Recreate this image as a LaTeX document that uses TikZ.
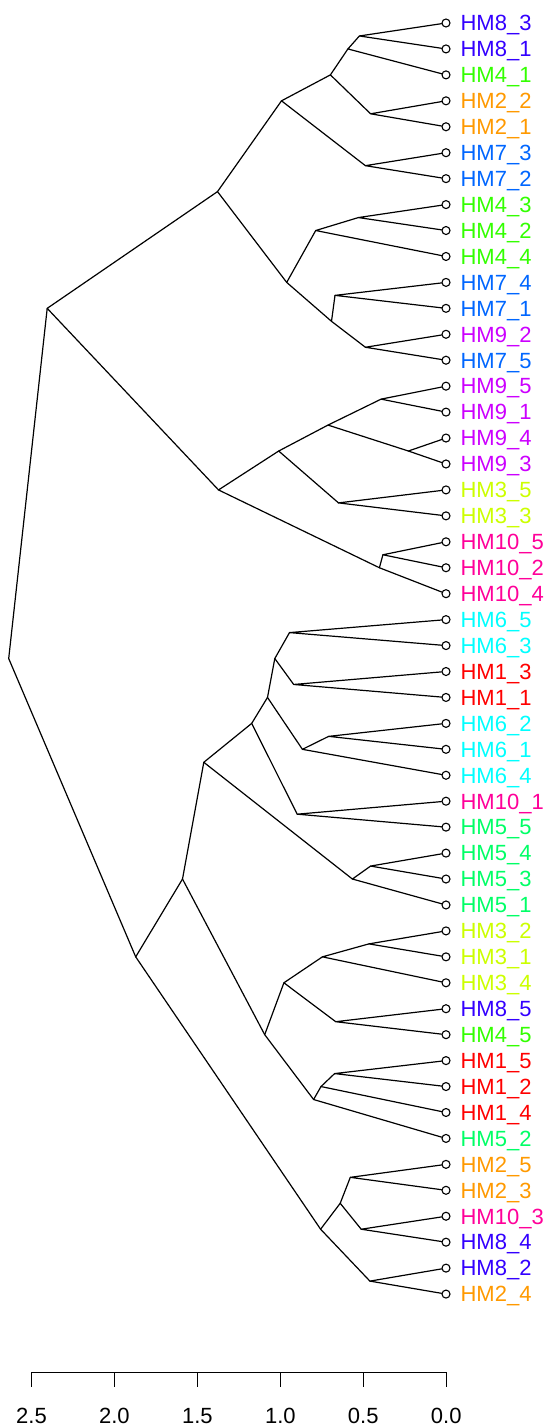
\documentclass[tikz,border=0pt]{standalone}
\usepackage{fontspec}
\setmainfont{Liberation Sans}
\definecolor{hma}{HTML}{FF0000}
\definecolor{hmb}{HTML}{FF9900}
\definecolor{hmc}{HTML}{CCFF00}
\definecolor{hmd}{HTML}{33FF00}
\definecolor{hme}{HTML}{00FF66}
\definecolor{hmf}{HTML}{00FFFF}
\definecolor{hmg}{HTML}{0066FF}
\definecolor{hmh}{HTML}{3300FF}
\definecolor{hmi}{HTML}{CC00FF}
\definecolor{hmj}{HTML}{FF0099}
\begin{document}
\begin{tikzpicture}[x=1pt,y=-1pt,line width=1.2pt,
  leaf/.style={circle,draw,inner sep=0pt,minimum size=8pt,line width=1.1pt},
  lab/.style={anchor=base west,inner sep=0pt,font=\fontsize{22}{26}\selectfont},
  ticklab/.style={anchor=base,inner sep=0pt,font=\fontsize{22}{26}\selectfont}]
\useasboundingbox (0,0) rectangle (549,1428);
\foreach \i/\t/\c in {0/HM8\_3/hmh,1/HM8\_1/hmh,2/HM4\_1/hmd,3/HM2\_2/hmb,4/HM2\_1/hmb,
  5/HM7\_3/hmg,6/HM7\_2/hmg,7/HM4\_3/hmd,8/HM4\_2/hmd,9/HM4\_4/hmd,
  10/HM7\_4/hmg,11/HM7\_1/hmg,12/HM9\_2/hmi,13/HM7\_5/hmg,14/HM9\_5/hmi,
  15/HM9\_1/hmi,16/HM9\_4/hmi,17/HM9\_3/hmi,18/HM3\_5/hmc,19/HM3\_3/hmc,
  20/HM10\_5/hmj,21/HM10\_2/hmj,22/HM10\_4/hmj,23/HM6\_5/hmf,24/HM6\_3/hmf,
  25/HM1\_3/hma,26/HM1\_1/hma,27/HM6\_2/hmf,28/HM6\_1/hmf,29/HM6\_4/hmf,
  30/HM10\_1/hmj,31/HM5\_5/hme,32/HM5\_4/hme,33/HM5\_3/hme,34/HM5\_1/hme,
  35/HM3\_2/hmc,36/HM3\_1/hmc,37/HM3\_4/hmc,38/HM8\_5/hmh,39/HM4\_5/hmd,
  40/HM1\_5/hma,41/HM1\_2/hma,42/HM1\_4/hma,43/HM5\_2/hme,44/HM2\_5/hmb,
  45/HM2\_3/hmb,46/HM10\_3/hmj,47/HM8\_4/hmh,48/HM8\_2/hmh,49/HM2\_4/hmb}{
  \node[leaf] (l\i) at (446,23+25.94*\i) {};
  \node[lab,text=\c] (t\i) at (460,30.8+25.94*\i) {\t};
}
% internal nodes: (height position, midpoint of tip range)
\foreach \n/\x/\m in {0t1/359.4/0.5, 0t2/347.9/1, 3t4/370.6/3.5, 0t4/330.4/2,
  5t6/365.4/5.5, 0t6/281.5/3, 7t8/358.4/7.5, 7t9/315.7/8, 10t11/335.0/10.5,
  12t13/365.4/12.5, 10t13/331.5/11.5, 7t13/286.7/10, 0t13/217.5/6.5,
  14t15/381.1/14.5, 16t17/408.4/16.5, 14t17/328.0/15.5, 18t19/338.5/18.5,
  14t19/278.7/16.5, 20t21/382.9/20.5, 20t22/379.4/21, 14t22/218.5/18,
  0t22/47.2/11, 23t24/289.5/23.5, 25t26/293.7/25.5, 23t26/274.8/24.5,
  27t28/328.7/27.5, 27t29/302.4/28, 23t29/267.5/26, 30t31/297.2/30.5,
  23t31/251.7/27, 32t33/370.6/32.5, 32t34/352.4/33, 23t34/203.8/28.5,
  35t36/368.9/35.5, 35t37/322.4/36, 38t39/335.7/38.5, 35t39/283.9/37,
  40t41/334.6/40.5, 40t42/321.0/41, 40t43/313.6/41.5, 35t43/264.7/39,
  23t43/182.5/33, 44t45/350.3/44.5, 46t47/361.2/46.5, 44t47/340.2/45.5,
  48t49/369.9/48.5, 44t49/320.6/46.5, 23t49/135.7/36, root/8.7/24.5}{
  \coordinate (n\n) at (\x,23+25.94*\m);
}
\foreach \p/\a/\b in {n0t1/l0/l1, n0t2/n0t1/l2, n3t4/l3/l4, n0t4/n0t2/n3t4,
  n5t6/l5/l6, n0t6/n0t4/n5t6, n7t8/l7/l8, n7t9/n7t8/l9, n10t11/l10/l11,
  n12t13/l12/l13, n10t13/n10t11/n12t13, n7t13/n7t9/n10t13, n0t13/n0t6/n7t13,
  n14t15/l14/l15, n16t17/l16/l17, n14t17/n14t15/n16t17, n18t19/l18/l19,
  n14t19/n14t17/n18t19, n20t21/l20/l21, n20t22/n20t21/l22, n14t22/n14t19/n20t22,
  n0t22/n0t13/n14t22, n23t24/l23/l24, n25t26/l25/l26, n23t26/n23t24/n25t26,
  n27t28/l27/l28, n27t29/n27t28/l29, n23t29/n23t26/n27t29, n30t31/l30/l31,
  n23t31/n23t29/n30t31, n32t33/l32/l33, n32t34/n32t33/l34, n23t34/n23t31/n32t34,
  n35t36/l35/l36, n35t37/n35t36/l37, n38t39/l38/l39, n35t39/n35t37/n38t39,
  n40t41/l40/l41, n40t42/n40t41/l42, n40t43/n40t42/l43, n35t43/n35t39/n40t43,
  n23t43/n23t34/n35t43, n44t45/l44/l45, n46t47/l46/l47, n44t47/n44t45/n46t47,
  n48t49/l48/l49, n44t49/n44t47/n48t49, n23t49/n23t43/n44t49, nroot/n0t22/n23t49}{
  \draw[line cap=round,line join=round] (\a) -- (\p) -- (\b);
}
% axis
\coordinate (ax0) at (31.5,1372.3);
\coordinate (ax1) at (446.2,1372.3);
\draw[line width=1.1pt] (ax0) -- (ax1);
\foreach \k/\v in {0/2.5,1/2.0,2/1.5,3/1.0,4/0.5,5/0.0}{
  \draw[line width=1.1pt] (31.5+82.94*\k,1372.3) -- (31.5+82.94*\k,1386.7);
  \node[ticklab] (tk\k) at (31.5+82.94*\k,1423.4) {\v};
}
\end{tikzpicture}
\end{document}
